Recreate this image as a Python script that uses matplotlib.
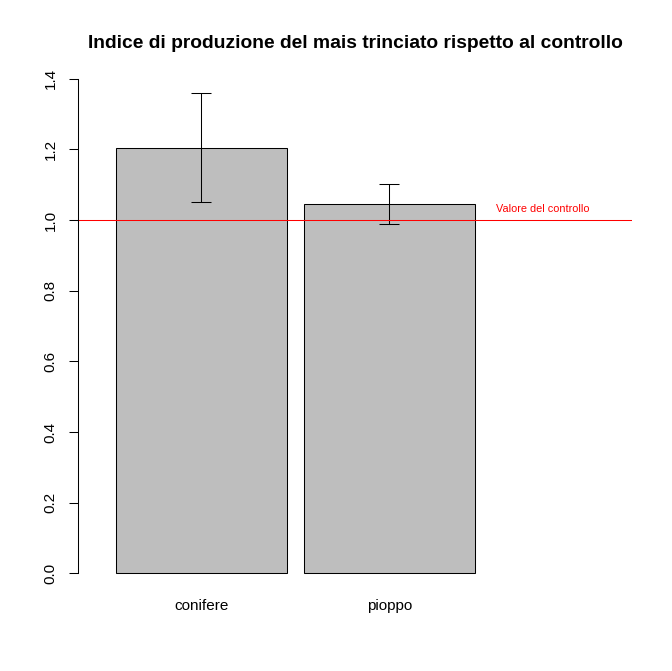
import matplotlib
matplotlib.use("Agg")
import matplotlib.pyplot as plt

categories = ["conifere", "pioppo"]
values = [1.205, 1.045]
err_low = [1.052, 0.988]
err_high = [1.359, 1.101]
control = 1.0
yticks = [0.0, 0.2, 0.4, 0.6, 0.8, 1.0, 1.2, 1.4]

plt.rcParams['font.family'] = ['Liberation Sans', 'DejaVu Sans']

fig = plt.figure(figsize=(6.72, 6.71), dpi=100)
W, H = 672, 671
ax = fig.add_axes([78 / W, (H - 593) / H, (632 - 78) / W, (593 - 59) / H])

# bars like R barplot(width=1, space=0.1)
pos = [0.1 + 0.5 + i * 1.1 for i in range(len(categories))]
ax.bar(pos, values, width=1.0, color="#bebebe", edgecolor="black", linewidth=0.75)

lower = [v - lo for v, lo in zip(values, err_low)]
upper = [hi - v for v, hi in zip(values, err_high)]
ax.errorbar(pos, values, yerr=[lower, upper], fmt="none", ecolor="black",
            elinewidth=0.75, capsize=7.2, capthick=0.75)

ax.axhline(control, color="red", linewidth=0.75)
ax.text(2.6, 1.03, "Valore del controllo", color="red", fontsize=7.8,
        ha="center", va="center")

ax.set_xlim(-0.12, 3.12)
ax.set_ylim(-0.056, 1.456)

for s in ["top", "right", "bottom"]:
    ax.spines[s].set_visible(False)
ax.spines["left"].set_bounds(0, 1.4)
ax.spines["left"].set_linewidth(0.75)

ax.set_yticks(yticks)
ax.set_yticklabels(["%.1f" % t for t in yticks], rotation=90, va="center", fontsize=11)
ax.tick_params(axis="y", length=6.5, width=0.75, pad=8)

ax.set_xticks(pos)
ax.set_xticklabels(categories, fontsize=11)
ax.tick_params(axis="x", length=0, pad=4)

ax.set_title("Indice di produzione del mais trinciato rispetto al controllo",
             fontsize=13.9, fontweight="bold", pad=8)

fig.savefig("out.png", dpi=100)
